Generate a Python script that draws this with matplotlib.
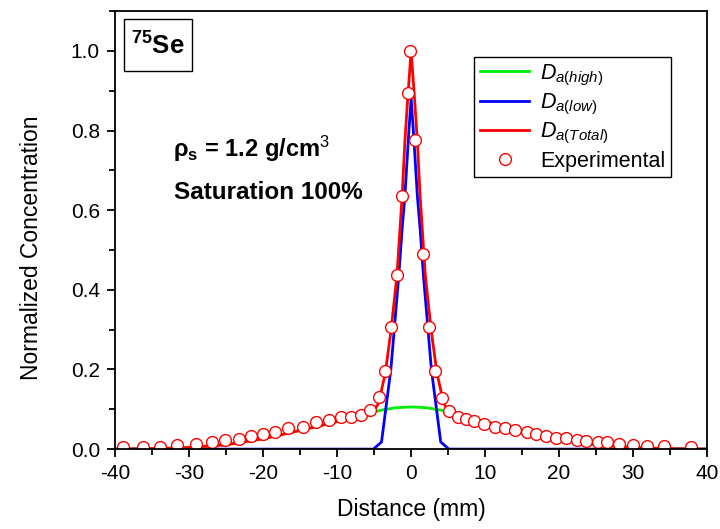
import matplotlib
matplotlib.use("Agg")
import matplotlib.pyplot as plt
from matplotlib.ticker import MultipleLocator
from matplotlib.patches import Rectangle

plt.rcParams["font.family"] = ["Liberation Sans", "DejaVu Sans"]
plt.rcParams["mathtext.fontset"] = "custom"
plt.rcParams["mathtext.rm"] = "Liberation Sans"
plt.rcParams["mathtext.it"] = "Liberation Sans:italic"
plt.rcParams["mathtext.bf"] = "Liberation Sans:bold"
plt.rcParams["axes.unicode_minus"] = False

# experimental points
exp_x = [-38.9, -36.3, -33.9, -31.6, -29.1, -26.9, -25.1, -23.2, -21.6, -20.0,
         -18.4, -16.6, -14.6, -12.8, -11.1, -9.5, -8.1, -6.8, -5.5, -4.4,
         -3.5, -2.7, -1.9, -1.2, -0.45, -0.1, 0.5, 1.58, 2.39, 3.28,
         4.17, 5.1, 6.3, 7.4, 8.5, 9.9, 11.3, 12.7, 14.1, 15.6,
         16.9, 18.2, 19.6, 21.0, 22.4, 23.7, 25.2, 26.5, 28.1, 30.0,
         31.9, 34.2, 37.8]
exp_y = [0.006, 0.006, 0.006, 0.011, 0.012, 0.019, 0.024, 0.026, 0.033, 0.039,
         0.044, 0.052, 0.056, 0.067, 0.073, 0.081, 0.081, 0.086, 0.098, 0.130,
         0.197, 0.307, 0.437, 0.636, 0.895, 1.0, 0.776, 0.489, 0.307, 0.197,
         0.128, 0.096, 0.080, 0.075, 0.071, 0.063, 0.055, 0.052, 0.049, 0.044,
         0.039, 0.032, 0.029, 0.027, 0.023, 0.020, 0.018, 0.018, 0.013, 0.010,
         0.008, 0.008, 0.006]

# D_a(high)
high_x = [-40, -35, -30, -25, -20, -15, -10, -8, -6, -4, -2, 0,
          2, 4, 6, 8, 10, 15, 20, 25, 30, 35, 40]
high_y = [0.0, 0.001, 0.004, 0.011, 0.026, 0.047, 0.069, 0.079, 0.089, 0.098, 0.104, 0.106,
          0.104, 0.098, 0.089, 0.079, 0.069, 0.047, 0.026, 0.011, 0.004, 0.001, 0.0]

# D_a(low)
low_x = [-40, -5.1, -4.0, -2.74, -1.66, -1.23, -0.85, -0.3, 0,
         0.3, 0.85, 1.23, 1.66, 2.74, 4.0, 5.1, 40]
low_y = [0.0, 0.0, 0.018, 0.20, 0.437, 0.55, 0.634, 0.80, 0.88,
         0.80, 0.634, 0.55, 0.437, 0.20, 0.018, 0.0, 0.0]

# D_a(Total)
tot_x = [-40, -35, -30, -25, -20, -15, -10, -8, -6, -5, -4.4, -3.5, -2.7, -1.9, -1.2, -0.85, -0.5, 0,
         0.5, 0.85, 1.2, 1.9, 2.7, 3.5, 4.4, 5, 6, 8, 10, 15, 20, 25, 30, 35, 40]
tot_y = [0.0, 0.001, 0.004, 0.011, 0.026, 0.047, 0.069, 0.079, 0.089, 0.097, 0.115, 0.19, 0.30, 0.44, 0.64, 0.77, 0.87, 1.0,
         0.87, 0.77, 0.64, 0.44, 0.30, 0.19, 0.115, 0.097, 0.089, 0.079, 0.069, 0.047, 0.026, 0.011, 0.004, 0.001, 0.0]

fig = plt.figure(figsize=(7.2, 5.29), dpi=100)
ax = fig.add_axes([0.160, 0.151, 0.822, 0.828])

ax.plot(high_x, high_y, color="#00ee00", lw=2.0, label=r"$D_{a(high)}$")
ax.plot(low_x, low_y, color="#0000ff", lw=2.0, label=r"$D_{a(low)}$")
ax.plot(tot_x, tot_y, color="#ff0000", lw=2.0, label=r"$D_{a(Total)}$")
ax.plot(exp_x, exp_y, ls="none", marker="o", ms=8.5, mfc="white", mec="#ff0000",
        mew=1.0, label="Experimental")

ax.set_xlim(-40, 40)
ax.set_ylim(0, 1.1)
ax.xaxis.set_major_locator(MultipleLocator(10))
ax.xaxis.set_minor_locator(MultipleLocator(5))
ax.yaxis.set_major_locator(MultipleLocator(0.2))
ax.yaxis.set_minor_locator(MultipleLocator(0.1))
ax.yaxis.set_major_formatter(matplotlib.ticker.FormatStrFormatter("%.1f"))
ax.tick_params(which="major", direction="out", length=6, width=1.3, labelsize=15, pad=5)
ax.tick_params(which="minor", direction="out", length=4, width=1.3)
for s in ax.spines.values():
    s.set_linewidth(1.3)

ax.set_xlabel("Distance (mm)", fontsize=16.5)
ax.set_ylabel("Normalized Concentration", fontsize=16.5)
ax.xaxis.set_label_coords(0.5, -0.112)
ax.yaxis.set_label_coords(-0.122, 0.46)

leg = ax.legend(loc="upper left", bbox_to_anchor=(0.607, 0.895), fontsize=15.5,
                frameon=True, fancybox=False, edgecolor="black", framealpha=1,
                handlelength=2.3, labelspacing=0.2, borderpad=0.25, handletextpad=0.5,
                borderaxespad=0)
leg.get_frame().set_linewidth(1.0)

ax.add_patch(Rectangle((0.0152, 0.863), 0.115, 0.119, transform=ax.transAxes,
                       fc="white", ec="black", lw=1.0, zorder=5))
ax.text(0.0726, 0.920, r"$\mathbf{^{75}}$Se", transform=ax.transAxes, fontsize=18.5,
        fontweight="bold", va="center", ha="center", zorder=6)

ax.text(0.098, 0.685, r"ρ$_\mathbf{s}$ = 1.2 g/cm$^{3}$", transform=ax.transAxes,
        fontsize=17, fontweight="bold", va="center", ha="left")
ax.text(0.100, 0.586, "Saturation 100%", transform=ax.transAxes,
        fontsize=17.5, fontweight="bold", va="center", ha="left")

fig.savefig("out.png", dpi=100)
